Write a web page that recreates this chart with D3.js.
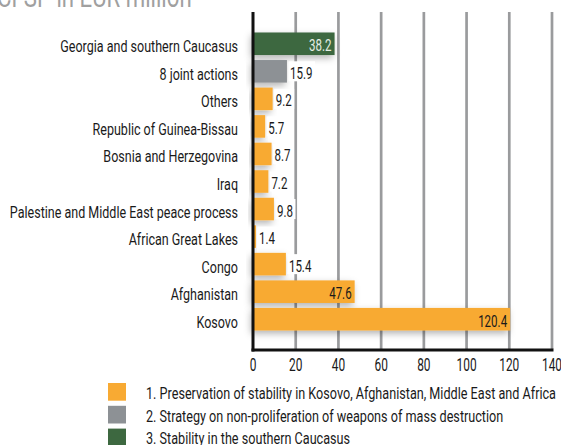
<!DOCTYPE html>
<html>
<head>
<meta charset="utf-8">
<script src="https://cdn.jsdelivr.net/npm/d3@7"></script>
<style>
  html, body { margin: 0; padding: 0; background: #fff; }
  svg { display: block; }
  text { font-family: Roboto, "Liberation Sans", sans-serif; }
</style>
</head>
<body>
<svg id="chart" width="561" height="445"></svg>
<script>
// CFSP budget by action, EUR million
const categories = [
  "Georgia and southern Caucasus",
  "8 joint actions",
  "Others",
  "Republic of Guinea-Bissau",
  "Bosnia and Herzegovina",
  "Iraq",
  "Palestine and Middle East peace process",
  "African Great Lakes",
  "Congo",
  "Afghanistan",
  "Kosovo"
];
const values = [38.2, 15.9, 9.2, 5.7, 8.7, 7.2, 9.8, 1.4, 15.4, 47.6, 120.4];
// group index per category: 0 = stability, 1 = non-proliferation, 2 = Caucasus
const groups = [2, 1, 0, 0, 0, 0, 0, 0, 0, 0, 0];
const groupNames = [
  "1. Preservation of stability in Kosovo, Afghanistan, Middle East and Africa",
  "2. Strategy on non-proliferation of weapons of mass destruction",
  "3. Stability in the southern Caucasus"
];
const groupColors = ["#f8aa33", "#8d9195", "#3d6840"];
const xTicks = [0, 20, 40, 60, 80, 100, 120, 140];
const title = "CFSP in EUR million";

const svg = d3.select("#chart");

const x = d3.scaleLinear().domain([0, 140]).range([253, 552]);
const y = d3.scaleBand().domain(categories).range([30, 333])
  .paddingInner(0.18).paddingOuter(0.09);

// horizontal squeeze that gives the narrow, condensed lettering
const SQUEEZE = 0.70;

// text drawn with a horizontal squeeze around its anchor point
function ctext(g, px, py, str, opts) {
  const t = g.append("text")
    .attr("transform", `translate(${px},${py}) scale(${opts.sx || SQUEEZE},1)`)
    .attr("text-anchor", opts.anchor || "start")
    .attr("font-size", opts.size)
    .attr("fill", opts.fill || "#1a1a1a")
    .text(str);
  if (opts.weight) t.attr("font-weight", opts.weight);
  return t;
}

const defs = svg.append("defs");
const f = defs.append("filter").attr("id", "shadow")
  .attr("x", "-20%").attr("y", "-60%").attr("width", "140%").attr("height", "220%");
f.append("feDropShadow").attr("dx", -2).attr("dy", 3).attr("stdDeviation", 3.5)
  .attr("flood-color", "#000").attr("flood-opacity", 0.3);

// title (runs off the top edge)
ctext(svg, -3, 7, title, { size: 30, fill: "#a0a0a0", sx: 0.74 });

// vertical gridlines
svg.append("g").selectAll("line").data(xTicks.slice(1)).join("line")
  .attr("x1", d => x(d)).attr("x2", d => x(d))
  .attr("y1", 12).attr("y2", 349)
  .attr("stroke", "#9a9b9d").attr("stroke-width", 2.7);

// bars
svg.append("g").selectAll("rect").data(categories).join("rect")
  .attr("x", x(0))
  .attr("y", d => y(d))
  .attr("width", (d, i) => x(values[i]) - x(0))
  .attr("height", y.bandwidth())
  .attr("fill", (d, i) => groupColors[groups[i]])
  .attr("filter", "url(#shadow)");

// value labels: inside for long bars, outside on a white patch otherwise
const lab = svg.append("g");
categories.forEach((c, i) => {
  const v = values[i];
  const inside = v > 30;
  const cy = y(c) + y.bandwidth() / 2;
  const txt = d3.format(".1f")(v);
  const patch = inside ? null : lab.append("rect").attr("fill", "#fff");
  const t = ctext(lab, inside ? x(v) - 3 : x(v) + 3, cy + 7.5, txt, {
    size: 16.5,
    anchor: inside ? "end" : "start",
    fill: groups[i] === 2 ? "#e6eee4" : "#1a1a1a"
  });
  if (patch) {
    const w = t.node().getComputedTextLength() * SQUEEZE;
    patch.attr("x", x(v) + 1.5).attr("y", cy - 10)
      .attr("width", w + 4).attr("height", 20);
  }
});

// category labels
const catG = svg.append("g");
categories.forEach(c => {
  ctext(catG, 238, y(c) + y.bandwidth() / 2 + 8.5, c, { size: 17, anchor: "end", sx: 0.737 });
});

// axis lines
svg.append("line").attr("x1", x(0)).attr("x2", x(0)).attr("y1", 12).attr("y2", 351.5)
  .attr("stroke", "#111").attr("stroke-width", 3);
svg.append("line").attr("x1", x(0) - 1.5).attr("x2", x(140) + 1.5).attr("y1", 350).attr("y2", 350)
  .attr("stroke", "#111").attr("stroke-width", 3);

// numeric axis labels
const tickG = svg.append("g");
xTicks.forEach(t => {
  ctext(tickG, x(t), 370.5, String(t), { size: 17.5, anchor: "middle", sx: 0.68 });
});

// legend
const leg = svg.append("g");
groupNames.forEach((n, i) => {
  const ly = 383 + i * 22.8;
  leg.append("rect").attr("x", 108).attr("y", ly).attr("width", 18).attr("height", 17.7)
    .attr("fill", groupColors[i]);
  ctext(leg, 146, ly + 15.8, n, { size: 15.6, sx: 0.81 });
});
</script>
</body>
</html>
